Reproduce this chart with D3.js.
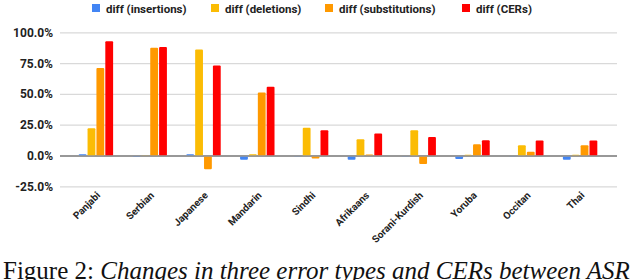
<!DOCTYPE html>
<html>
<head>
<meta charset="utf-8">
<script src="https://cdn.jsdelivr.net/npm/d3@7"></script>
<style>
  body { margin: 0; background: #fff; }
  svg { display: block; }
</style>
</head>
<body>
<script>
const width = 632
const height = 280

const languages = ['Panjabi', 'Serbian', 'Japanese', 'Mandarin', 'Sindhi', 'Afrikaans', 'Sorani-Kurdish', 'Yoruba', 'Occitan', 'Thai']
const seriesNames = ['diff (insertions)', 'diff (deletions)', 'diff (substitutions)', 'diff (CERs)']
const colors = ['#4285f4', '#fbbc04', '#ff9900', '#ff0000']

// values in percent
const insertions = [1.5, -0.8, 1.5, -3.0, -0.5, -3.0, -0.5, -2.5, -0.5, -3.0]
const deletions = [22.5, 0.5, 86.5, 1.5, 23.0, 13.5, 20.8, 1.0, 8.8, 1.0]
const substitutions = [71.5, 87.8, -10.8, 51.5, -2.0, 1.2, -6.5, 9.5, 3.5, 8.8]
const cers = [93.2, 88.5, 73.5, 56.3, 21.0, 18.3, 15.5, 12.8, 12.5, 12.5]
const yTicks = [-25, 0, 25, 50, 75, 100]

const seriesValues = [insertions, deletions, substitutions, cers]

const svg = d3.select('body')
  .append('svg')
  .attr('width', width)
  .attr('height', height)

const x0 = d3.scaleBand()
  .domain(languages)
  .range([69, 607])
  .paddingInner(0.36)
  .paddingOuter(0.18)

const x1 = d3.scaleBand()
  .domain(d3.range(4))
  .range([0, x0.bandwidth()])
  .paddingInner(0.12)

const y = d3.scaleLinear()
  .domain([-25, 100])
  .range([186.8, 32.8])

// gridlines
svg.append('g')
  .selectAll('line')
  .data(yTicks)
  .enter()
  .append('line')
  .attr('x1', 60)
  .attr('x2', 617)
  .attr('y1', d => y(d))
  .attr('y2', d => y(d))
  .attr('stroke', d => d === 0 ? '#999' : '#d9d9d9')
  .attr('stroke-width', d => d === 0 ? 2 : 1.2)

// y labels
svg.append('g')
  .selectAll('text')
  .data(yTicks)
  .enter()
  .append('text')
  .attr('x', 53)
  .attr('y', d => y(d) + 4)
  .attr('text-anchor', 'end')
  .style('font-family', 'Roboto, Arial, sans-serif')
  .style('font-weight', 'bold')
  .style('font-size', '12px')
  .attr('fill', '#222')
  .text(d => d.toFixed(1) + '%')

// bars
const groups = svg.append('g')
  .selectAll('g')
  .data(languages)
  .enter()
  .append('g')
  .attr('transform', d => 'translate(' + x0(d) + ',0)')

groups.selectAll('rect')
  .data((d, i) => seriesValues.map((vals, s) => ({ s: s, v: vals[i] })))
  .enter()
  .append('rect')
  .attr('x', d => x1(d.s))
  .attr('width', x1.bandwidth())
  .attr('y', d => Math.min(y(d.v), y(0)))
  .attr('height', d => Math.abs(y(d.v) - y(0)))
  .attr('rx', 1)
  .attr('fill', d => colors[d.s])

// redraw zero line on top
svg.append('line')
  .attr('x1', 60)
  .attr('x2', 617)
  .attr('y1', y(0))
  .attr('y2', y(0))
  .attr('stroke', '#999')
  .attr('stroke-width', 1.5)

// x labels
svg.append('g')
  .selectAll('text')
  .data(languages)
  .enter()
  .append('text')
  .attr('text-anchor', 'end')
  .attr('transform', d => 'translate(' + (x0(d) + x0.bandwidth() / 2 + 5) + ',196)rotate(-45)')
  .style('font-family', 'Roboto, Arial, sans-serif')
  .style('font-weight', 'bold')
  .style('font-size', '10px')
  .attr('fill', '#222')
  .text(d => d)

// legend
const legendX = [92, 211, 325, 462]
const legend = svg.append('g')
  .selectAll('g')
  .data(seriesNames)
  .enter()
  .append('g')
  .attr('transform', (d, i) => 'translate(' + legendX[i] + ',4)')

legend.append('rect')
  .attr('width', 8)
  .attr('height', 8)
  .attr('fill', (d, i) => colors[i])

legend.append('text')
  .attr('x', 14)
  .attr('y', 8.5)
  .style('font-family', 'Roboto, Arial, sans-serif')
  .style('font-weight', 'bold')
  .style('font-size', '11.5px')
  .attr('fill', '#222')
  .text(d => d)

// caption
const caption = svg.append('text')
  .attr('x', 3)
  .attr('y', 279)
  .style('font-family', '"Liberation Serif", "Times New Roman", serif')
  .style('font-size', '25px')
  .attr('fill', '#111')

caption.append('tspan').text('Figure 2:  ')
caption.append('tspan')
  .style('font-style', 'italic')
  .text('Changes in three error types and CERs between ASR')
</script>
</body>
</html>
